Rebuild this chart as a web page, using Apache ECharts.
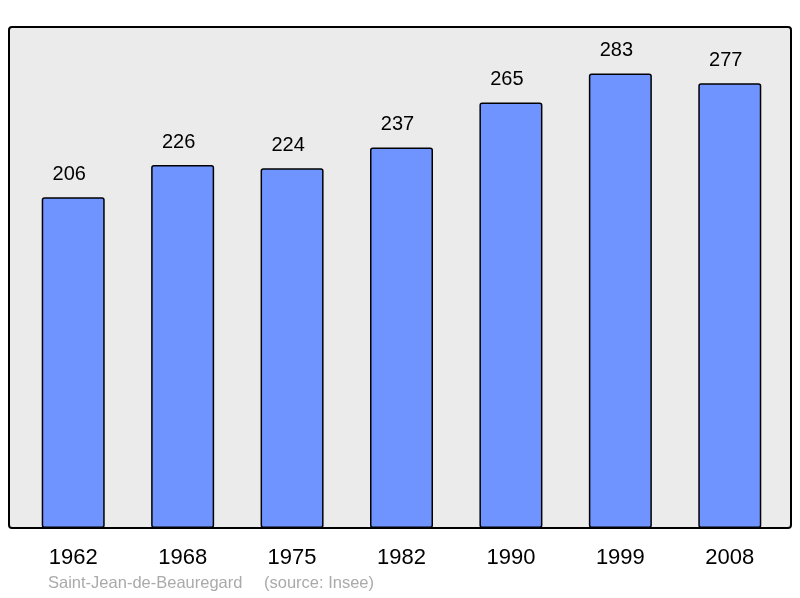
<!DOCTYPE html>
<html lang="fr">
<head>
    <meta charset="UTF-8">
    <title>Population</title>
    <script src="https://cdn.jsdelivr.net/npm/echarts@6/dist/echarts.min.js"></script>
    <style>
        html, body { margin: 0; padding: 0; background: #fff; }
    </style>
</head>
<body>
<div id="main" style="width:800px;height:598px;"></div>
<script type="text/javascript">
    var years = ['1962', '1968', '1975', '1982', '1990', '1999', '2008'];
    var population = [206, 226, 224, 237, 265, 283, 277];
    var commune = 'Saint-Jean-de-Beauregard';
    var source = '(source: Insee)';

    var myChart = echarts.init(document.getElementById('main'));
    var option = {
        animation: false,
        backgroundColor: '#ffffff',
        textStyle: { fontFamily: 'Liberation Sans, Arial, sans-serif' },
        graphic: [
            {
                type: 'rect',
                z: -10,
                shape: { x: 9, y: 27, width: 782, height: 501, r: 3 },
                style: { fill: '#ebebeb', stroke: '#000', lineWidth: 2 }
            },
            {
                type: 'text',
                left: 48, top: 575,
                style: { text: commune, fill: '#aaaaaa', font: '16.5px Liberation Sans, Arial, sans-serif' }
            },
            {
                type: 'text',
                left: 264, top: 575,
                style: { text: source, fill: '#aaaaaa', font: '16.5px Liberation Sans, Arial, sans-serif' }
            }
        ],
        grid: { left: 18.5, right: 15.5, top: 27, bottom: 70 },
        xAxis: {
            type: 'category',
            data: years,
            axisLine: { show: false },
            axisTick: { show: false },
            axisLabel: { color: '#000', fontSize: 22, margin: 19 }
        },
        yAxis: {
            type: 'value',
            min: 0,
            max: 312,
            show: false,
            splitLine: { show: false }
        },
        series: [
            {
                type: 'bar',
                data: population,
                barWidth: 63,
                itemStyle: {
                    color: '#7094ff',
                    borderColor: '#000',
                    borderWidth: 1.5,
                    borderRadius: 2
                },
                label: {
                    show: true,
                    position: 'top',
                    distance: 13,
                    offset: [-4, 0],
                    color: '#000',
                    fontSize: 20
                }
            }
        ]
    };
    myChart.setOption(option);
</script>
</body>
</html>
